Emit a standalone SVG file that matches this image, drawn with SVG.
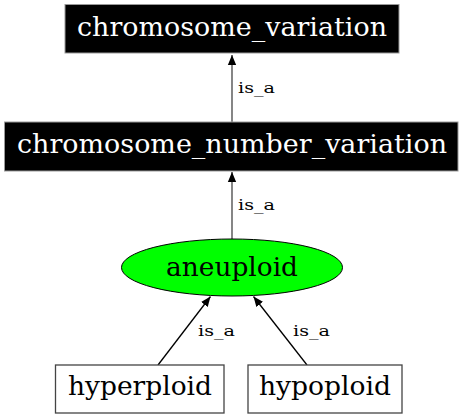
<svg xmlns="http://www.w3.org/2000/svg" width="464" height="419" viewBox="0 0 464 419">
<defs>
<marker id="arr" markerWidth="10" markerHeight="12" refX="12" refY="5" orient="auto" markerUnits="userSpaceOnUse" viewBox="0 0 12 10">
<path d="M0,0 L12,5 L0,10 Z" fill="#000"/>
</marker>
</defs>
<style>
.lbl{font-family:"DejaVu Serif","Liberation Serif",serif;font-size:26px;text-anchor:middle}
.elbl{font-family:"DejaVu Serif","Liberation Serif",serif;font-size:15px}
.edge{fill:none;stroke-width:1.3}
</style>
<rect width="464" height="419" fill="#fff"/>
<g id="edges">
<line class="edge" x1="232" y1="122" x2="232" y2="55" stroke="#444" stroke-width="1.6" marker-end="url(#arr)"/>
<text class="elbl" x="238" y="93" textLength="37" lengthAdjust="spacingAndGlyphs">is_a</text>
<line class="edge" x1="232" y1="239" x2="232" y2="172" stroke="#444" stroke-width="1.6" marker-end="url(#arr)"/>
<text class="elbl" x="238" y="210" textLength="37" lengthAdjust="spacingAndGlyphs">is_a</text>
<line class="edge" x1="158" y1="365" x2="210.5" y2="296.5" stroke="#000" marker-end="url(#arr)"/>
<text class="elbl" x="198" y="336" textLength="37" lengthAdjust="spacingAndGlyphs">is_a</text>
<line class="edge" x1="307" y1="365" x2="253.5" y2="296.5" stroke="#000" marker-end="url(#arr)"/>
<text class="elbl" x="293" y="336" textLength="37" lengthAdjust="spacingAndGlyphs">is_a</text>
</g>
<g id="chromosome_variation">
<rect x="65" y="4.5" width="334" height="48.5" fill="#000" stroke="#999"/>
<text class="lbl" x="232" y="36" fill="#fff" textLength="310" lengthAdjust="spacingAndGlyphs">chromosome_variation</text>
</g>
<g id="chromosome_number_variation">
<rect x="4.5" y="122" width="453.5" height="49" fill="#000" stroke="#999"/>
<text class="lbl" x="232" y="153" fill="#fff" textLength="430" lengthAdjust="spacingAndGlyphs">chromosome_number_variation</text>
</g>
<g id="aneuploid">
<ellipse cx="232" cy="267.5" rx="110.5" ry="28.5" fill="#00ff00" stroke="#000"/>
<text class="lbl" x="232" y="276" fill="#000" textLength="132" lengthAdjust="spacingAndGlyphs">aneuploid</text>
</g>
<g id="hyperploid">
<rect x="55.5" y="365" width="168.5" height="48" fill="#fff" stroke="#444" stroke-width="1.3"/>
<text class="lbl" x="140" y="395" fill="#000" textLength="144" lengthAdjust="spacingAndGlyphs">hyperploid</text>
</g>
<g id="hypoploid">
<rect x="248" y="365" width="154" height="48" fill="#fff" stroke="#444" stroke-width="1.3"/>
<text class="lbl" x="325" y="395" fill="#000" textLength="132" lengthAdjust="spacingAndGlyphs">hypoploid</text>
</g>
</svg>
